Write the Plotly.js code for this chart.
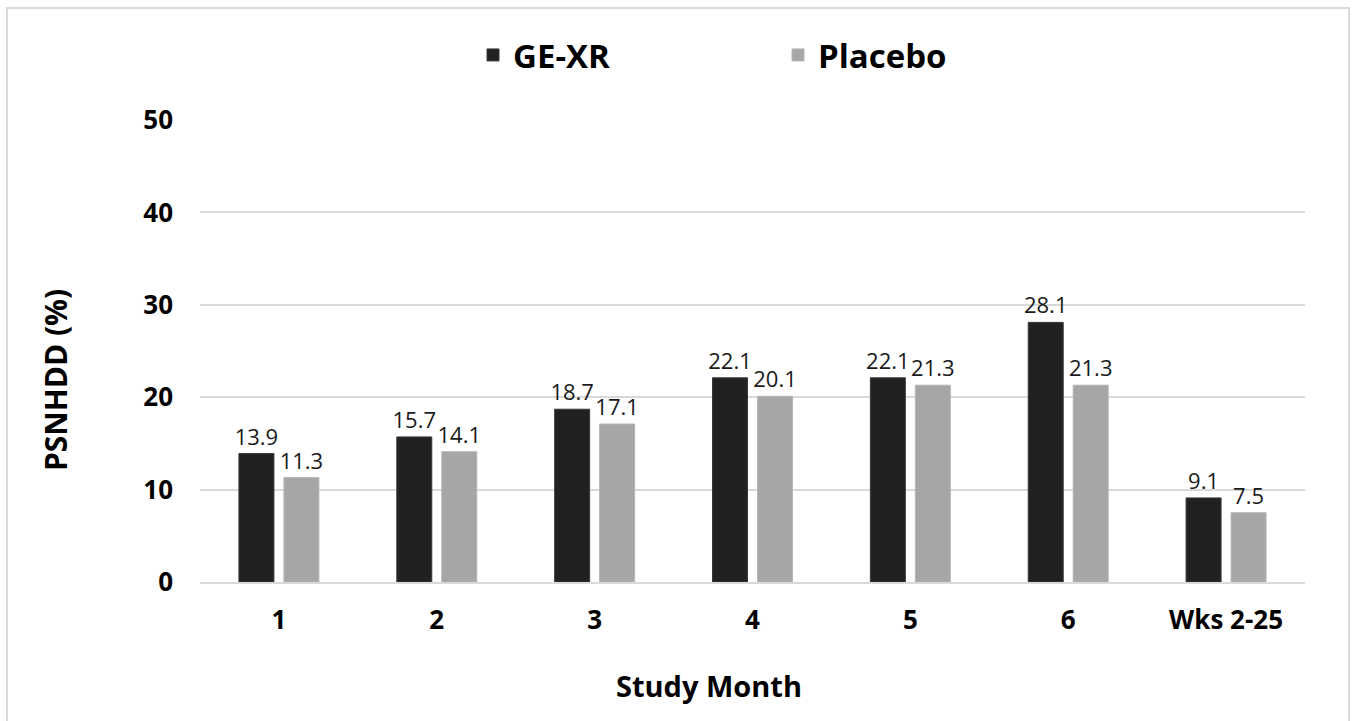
<!DOCTYPE html>
<html>
<head>
<meta charset="utf-8">
<script src="https://cdn.plot.ly/plotly-3.0.1.min.js"></script>
<style>html,body{margin:0;padding:0;background:#fff;}#chart{width:1352px;height:721px;}</style>
</head>
<body>
<div id="chart"></div>
<script>
var categories = ["1", "2", "3", "4", "5", "6", "Wks 2-25"];
var geXR = [13.9, 15.7, 18.7, 22.1, 22.1, 28.1, 9.1];
var placebo = [11.3, 14.1, 17.1, 20.1, 21.3, 21.3, 7.5];
var yTicks = [0, 10, 20, 30, 40, 50];
var xTitle = "Study Month";
var yTitle = "PSNHDD (%)";

var FONT = "Open Sans, Liberation Sans, sans-serif";

var traces = [
  {
    type: "bar", name: "GE-XR", x: categories, y: geXR,
    marker: {color: "#212121", line: {color: "#3a3a3a", width: 1}},
    text: geXR.map(function(v){return v.toFixed(1);}),
    textposition: "outside", cliponaxis: false, constraintext: "none",
    textfont: {family: FONT, size: 22, color: "#1a1a1a"},
    hoverinfo: "x+y"
  },
  {
    type: "bar", name: "Placebo", x: categories, y: placebo,
    marker: {color: "#a6a6a6", line: {color: "#b5b5b5", width: 1}},
    text: placebo.map(function(v){return v.toFixed(1);}),
    textposition: "outside", cliponaxis: false, constraintext: "none",
    textfont: {family: FONT, size: 22, color: "#1a1a1a"},
    hoverinfo: "x+y"
  }
];

var L = 200, R = 47, T = 120, B = 139;
var pw = 1352 - L - R, ph = 721 - T - B;
function px(x){ return (x - L) / pw; }
function py(y){ return (721 - B - y) / ph; }

var layout = {
  width: 1352, height: 721,
  margin: {l: L, r: R, t: T, b: B},
  paper_bgcolor: "#ffffff", plot_bgcolor: "#ffffff",
  font: {family: FONT, color: "#000000"},
  barmode: "group", bargap: 0.43, bargroupgap: 0.222,
  showlegend: true,
  legend: {
    orientation: "h", x: px(473), y: py(55),
    xanchor: "left", yanchor: "middle",
    font: {family: FONT, size: 33, color: "#000000", weight: "bold"},
    entrywidth: 260, traceorder: "normal"
  },
  xaxis: {
    type: "category",
    tickfont: {family: FONT, size: 26, color: "#000000", weight: "bold"},
    ticklabelstandoff: 14,
    showgrid: false, showline: true, linecolor: "#d9d9d9", linewidth: 2,
    ticks: ""
  },
  yaxis: {
    range: [0, 50], tickvals: yTicks, ticktext: yTicks.map(String),
    tickfont: {family: FONT, size: 26, color: "#000000", weight: "bold"},
    ticklabelstandoff: 26,
    showgrid: true, gridcolor: "#d9d9d9", gridwidth: 2,
    zeroline: false, showline: false, ticks: ""
  },
  annotations: [
    {text: xTitle, xref: "paper", yref: "paper", x: px(709), y: py(685),
     xanchor: "center", yanchor: "middle", showarrow: false,
     font: {family: FONT, size: 29, color: "#000000", weight: "bold"}},
    {text: yTitle, xref: "paper", yref: "paper", x: px(55), y: py(380),
     xanchor: "center", yanchor: "middle", showarrow: false, textangle: -90,
     font: {family: FONT, size: 30, color: "#000000", weight: "bold"}}
  ],
  shapes: [{
    type: "rect", xref: "paper", yref: "paper",
    x0: px(7), x1: px(1349), y0: py(740), y1: py(8),
    line: {color: "#d9d9d9", width: 2}, fillcolor: "rgba(0,0,0,0)", layer: "below"
  }]
};

Plotly.newPlot("chart", traces, layout, {displayModeBar: false, staticPlot: true});
</script>
</body>
</html>
